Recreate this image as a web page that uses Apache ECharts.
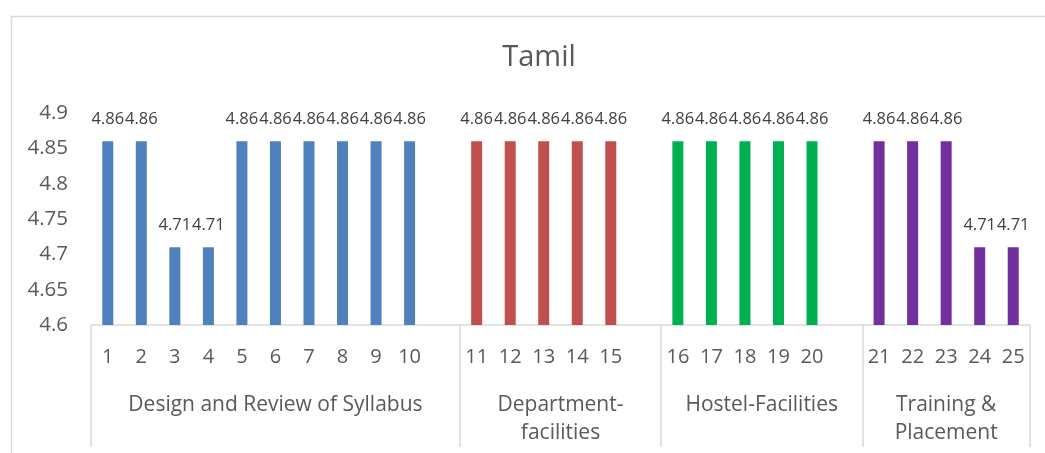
<!DOCTYPE html>
<html>
<head>
<meta charset="utf-8">
<script src="https://cdn.jsdelivr.net/npm/echarts@6/dist/echarts.min.js"></script>
<style>
html,body{margin:0;padding:0;background:#fff;}
#chart{width:1045px;height:453px;}
</style>
</head>
<body>
<div id="chart"></div>
<script>
// ---- data ----
const titleText = "Tamil";
const groupNames = ["Design and Review of Syllabus", "Department-\nfacilities", "Hostel-Facilities", "Training &\nPlacement"];
const groupCategories = [
  ["1","2","3","4","5","6","7","8","9","10"],
  ["11","12","13","14","15"],
  ["16","17","18","19","20"],
  ["21","22","23","24","25"]
];
const designValues = [4.86, 4.86, 4.71, 4.71, 4.86, 4.86, 4.86, 4.86, 4.86, 4.86];
const departmentValues = [4.86, 4.86, 4.86, 4.86, 4.86];
const hostelValues = [4.86, 4.86, 4.86, 4.86, 4.86];
const trainingValues = [4.86, 4.86, 4.86, 4.71, 4.71];
const yTicks = { min: 4.6, max: 4.9, step: 0.05 };

// ---- styles ----
const groupColors = ["#4F81BD", "#C0504D", "#00B050", "#7030A0"];
const FONT = "Open Sans";

// ---- build ----
const groupValues = [designValues, departmentValues, hostelValues, trainingValues];
const categories = [];
const barData = [];
const boundaries = [0];
const centers = [];
groupValues.forEach((vals, g) => {
  const start = categories.length;
  vals.forEach((v, i) => {
    categories.push(groupCategories[g][i]);
    barData.push({ value: v, itemStyle: { color: groupColors[g] } });
  });
  if (g < groupValues.length - 1) {
    categories.push("");
    barData.push({ value: null });
  }
  const end = categories.length;
  boundaries.push(end);
  centers.push((start + end) / 2);
});
const nSlots = categories.length;

const chart = echarts.init(document.getElementById("chart"), null, { renderer: "canvas" });
chart.setOption({
  animation: false,
  backgroundColor: "#ffffff",
  title: {
    text: titleText,
    left: 534,
    textAlign: "center",
    top: 38,
    textStyle: { fontFamily: FONT, fontSize: 29, fontWeight: "normal", color: "#595959" }
  },
  graphic: [{
    type: "rect",
    left: 9, top: 14,
    shape: { width: 1100, height: 500 },
    style: { fill: "none", stroke: "#d9d9d9", lineWidth: 1.5 },
    silent: true
  }],
  grid: { left: 91, right: 15, top: 113, bottom: 128, containLabel: false },
  xAxis: [
    {
      type: "category",
      data: categories,
      boundaryGap: true,
      axisLine: { show: true, lineStyle: { color: "#d9d9d9", width: 1.5 } },
      axisTick: { show: false },
      axisLabel: { interval: 0, margin: 22, fontFamily: FONT, fontSize: 20, color: "#595959" },
      splitLine: { show: false }
    },
    {
      type: "value",
      min: 0, max: nSlots,
      position: "bottom",
      axisLine: { show: false },
      axisTick: { show: true, customValues: boundaries, length: 122, lineStyle: { color: "#d9d9d9", width: 1.5 } },
      axisLabel: {
        show: true,
        customValues: centers,
        formatter: (v) => {
          const idx = centers.findIndex(c => Math.abs(c - v) < 1e-6);
          return idx >= 0 ? groupNames[idx] : "";
        },
        margin: 66,
        fontFamily: FONT, fontSize: 21, color: "#595959",
        lineHeight: 28, align: "center"
      },
      splitLine: { show: false }
    }
  ],
  yAxis: {
    type: "value",
    min: yTicks.min, max: yTicks.max, interval: yTicks.step,
    axisLine: { show: false },
    axisTick: { show: false },
    splitLine: { show: false },
    axisLabel: {
      margin: 23, fontFamily: FONT, fontSize: 20.5, color: "#595959",
      formatter: (v) => String(parseFloat(v.toFixed(2)))
    }
  },
  series: [{
    type: "bar",
    xAxisIndex: 0,
    data: barData,
    barWidth: 11,
    label: {
      show: true,
      position: "top",
      distance: 13,
      fontFamily: FONT, fontSize: 16.5, color: "#404040",
      formatter: (p) => p.value == null ? "" : p.value.toFixed(2)
    }
  }]
});
</script>
</body>
</html>
